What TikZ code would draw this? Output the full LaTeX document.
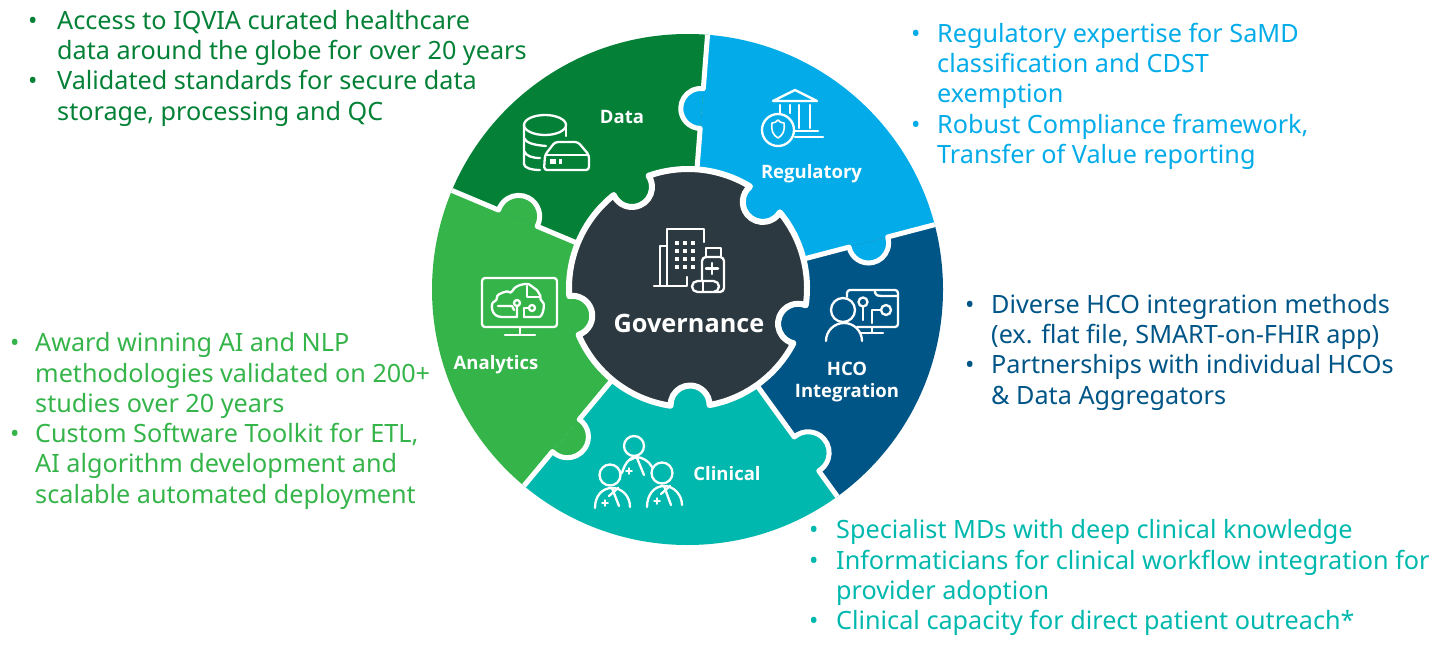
\documentclass[tikz,border=0pt]{standalone}
\usepackage{fontspec}
\setmainfont{Noto Sans}
\newfontfamily\lbf{Open Sans}
\definecolor{cdata}{HTML}{048137}
\definecolor{creg}{HTML}{03ACE8}
\definecolor{chco}{HTML}{005587}
\definecolor{cclin}{HTML}{00B8AD}
\definecolor{cana}{HTML}{35B44A}
\definecolor{cgov}{HTML}{2C3940}
\newcommand\gv[1]{\csname gv#1\endcsname}
\newcommand\gtab[4]{% id, angle, distance, radius
  \expandafter\pgfmathsetmacro\csname gva#1\endcsname{#2-acos((141.61+#3/100*#3-#4/100*#4)/(2.38*#3))}%
  \expandafter\pgfmathsetmacro\csname gvb#1\endcsname{#2+acos((141.61+#3/100*#3-#4/100*#4)/(2.38*#3))}%
  \expandafter\pgfmathsetmacro\csname gvs#1\endcsname{#2+180+acos((#4/100*#4+#3/100*#3-141.61)/(0.02*#4*#3))}%
  \expandafter\pgfmathsetmacro\csname gve#1\endcsname{#2+180-acos((#4/100*#4+#3/100*#3-141.61)/(0.02*#4*#3))}%
  \expandafter\def\csname gvr#1\endcsname{#4}}
\newcommand\seam[6]{% angle, rho, h, r, side, colour
  \pgfmathsetmacro\zph{acos(#3/#4)}%
  \pgfmathsetmacro\zst{#1-#5*90-#5*\zph}%
  \pgfmathsetmacro\zen{#1-#5*450+#5*\zph}%
  \pgfmathsetmacro\zn{#1+#5*90}%
  \path (O) ++(#1:#2) ++(\zn:#3) coordinate (T);
  \path (T) ++(\zst:#4) coordinate (I);
  \path (O) ++(#1:105) coordinate (Pa);
  \path (O) ++(#1:262) coordinate (Pb);
  \fill[#6] (I) arc[start angle=\zst,end angle=\zen,radius=#4] -- cycle;
  \draw[seamline] (Pa) -- (I) arc[start angle=\zst,end angle=\zen,radius=#4] -- (Pb);
}
\newcommand\sector[3]{\fill[#3] (O) -- ++(#1:262) arc[start angle=#1,end angle=#2,radius=262] -- cycle;}
\newcommand\bul[1]{\makebox[#1pt][l]{\fontsize{25}{25}\selectfont •}}
\newcommand\ind[1]{\hspace*{#1pt}}
\tikzset{
  seamline/.style={draw=white,line width=5pt,line join=round},
  gov/.style={fill=cgov,draw=white,line width=6pt,line join=round},
  ic/.style={draw=white,line width=2.3pt,line join=round,line cap=round},
  icf/.style={fill=white},
  lst/.style={anchor=north west,inner sep=0pt,align=left,font=\fontsize{25.2}{30.25}\selectfont},
  lab/.style={text=white,inner sep=0pt,align=center,font=\fontsize{18.5}{22}\selectfont\lbf\bfseries},
}
\begin{document}
\begin{tikzpicture}[x=1pt,y=1pt,yscale=-1]
\useasboundingbox (0,0) rectangle (1440,645);
\coordinate (O) at (687.5,289.5);
\coordinate (G) at (688,288);
\begin{scope}
\clip (O) circle[radius=255.5];
\sector{-85.5}{-14.7}{creg}
\sector{-14.7}{54.1}{chco}
\sector{54.1}{129.8}{cclin}
\sector{129.8}{202.8}{cana}
\sector{202.8}{274.5}{cdata}
\seam{-85.5}{181.5}{1}{20}{-1}{creg}
\seam{202.8}{184}{2}{21}{1}{cana}
\seam{-14.7}{187}{1}{20}{1}{creg}
\seam{54.1}{203}{2}{21}{-1}{cclin}
\seam{129.8}{190}{2}{21}{-1}{cana}
\end{scope}
\gtab{A}{-49}{114}{20}
\gtab{B}{18}{115.7}{20}
\gtab{C}{89}{117}{19.5}
\gtab{D}{166.5}{119}{20}
\gtab{E}{241}{115.5}{20}
\draw[gov] (G) ++(\gv{aA}:119)
  arc[start angle=\gv{sA},end angle=\gv{eA},radius=\gv{rA}]
  arc[start angle=\gv{bA},end angle=\gv{aB},radius=119]
  arc[start angle=\gv{sB},end angle=\gv{eB},radius=\gv{rB}]
  arc[start angle=\gv{bB},end angle=\gv{aC},radius=119]
  arc[start angle=\gv{sC},end angle=\gv{eC},radius=\gv{rC}]
  arc[start angle=\gv{bC},end angle=\gv{aD},radius=119]
  arc[start angle=\gv{sD},end angle=\gv{eD},radius=\gv{rD}]
  arc[start angle=\gv{bD},end angle=\gv{aE},radius=119]
  arc[start angle=\gv{sE},end angle=\gv{eE},radius=\gv{rE}]
  arc[start angle=\gv{bE},end angle=\gv{aA}+360,radius=119] -- cycle;
% labels
\node[lab] (ldata) at (622,116.5) {Data};
\node[lab] (lreg) at (811.5,174) {Regulatory};
\node[lab] (lhco) at (847,382) {HCO\\Integration};
\node[lab] (lclin) at (727,474) {Clinical};
\node[lab] (lana) at (496,365) {Analytics};
\node[lab,font=\fontsize{25.3}{30}\selectfont\lbf\bfseries] (lgov) at (689,323) {Governance};
% data icon
\draw[ic] (524,125) arc[start angle=180,end angle=540,x radius=21,y radius=10];
\draw[ic] (524,125) -- (524,164) .. controls (524,168) and (532,170) .. (540,170);
\draw[ic] (566,125) -- (566,136);
\draw[ic] (524,138) .. controls (526,143) and (534,145) .. (546,146);
\draw[ic] (524,151) .. controls (526,156) and (532,158) .. (540,158);
\draw[ic,rounded corners=3pt] (545,155) -- (555,142) -- (578,142) -- (589,155) -- (589,170) -- (544,170) -- cycle;
\draw[ic] (546,155) -- (588,155);
\fill[icf] (550,159) rectangle (556,164);
\fill[icf] (559,159) rectangle (562,164);
% regulatory icon
\draw[ic] (773,101) -- (795,90) -- (817,101) -- cycle;
\draw[ic] (780,105) -- (780,114);
\draw[ic] (790,105) -- (790,113);
\draw[ic] (799,105) -- (799,128);
\draw[ic] (810,105) -- (810,128);
\draw[ic] (795,131) -- (818,131);
\draw[ic] (795,137) -- (823,137);
\draw[ic] (778,130) circle[radius=16];
\draw[ic,line width=1.6pt] (772,123) .. controls (775,123) and (776,122) .. (778,120) .. controls (780,122) and (781,123) .. (784,123) .. controls (785,131) and (783,135) .. (778,138) .. controls (773,135) and (771,131) .. (772,123) -- cycle;
% HCO icon
\draw[ic] (843,310) circle[radius=12];
\draw[ic] (826,341) arc[start angle=180,end angle=360,radius=18];
\draw[ic,rounded corners=3pt] (847,297) -- (847,290) -- (898,290) -- (898,327) -- (857,327);
\draw[ic] (872,327) -- (872,333);
\draw[ic] (860,333) -- (883,333);
\draw[ic] (863,302) circle[radius=4.5];
\draw[ic] (863,307) -- (863,320);
\draw[ic] (886,310) circle[radius=5];
\draw[ic] (881,310) -- (872,310) -- (872,323);
\draw[ic,rounded corners=3pt] (875,291) -- (875,295) -- (880,296) -- (897,296);
% clinical icon
\draw[ic] (634,446) circle[radius=10];
\draw[ic] (622,473) .. controls (625,463) and (630,457) .. (636,457) .. controls (642,457) and (649,461) .. (652,467);
\draw[ic] (637,458) -- (644,475);
\draw[ic] (630,460) -- (636,457);
\draw[ic,line width=1.5pt] (626,471) -- (632,471) (629,468) -- (629,474);
\draw[ic] (610,475) circle[radius=10.5];
\draw[ic] (595,508) .. controls (595,496) and (602,488) .. (612,488) .. controls (622,488) and (630,496) .. (630,507);
\draw[ic] (612,488) -- (619,506) (618,488) -- (609,496);
\draw[ic,line width=1.5pt] (602,503) -- (608,503) (605,500) -- (605,506);
\draw[ic] (662,473) circle[radius=10.5];
\draw[ic] (647,507) .. controls (647,495) and (654,486) .. (664,486) .. controls (674,486) and (682,495) .. (682,505);
\draw[ic] (664,486) -- (671,505) (670,486) -- (661,494);
\draw[ic,line width=1.5pt] (654,501) -- (660,501) (657,498) -- (657,504);
% analytics icon
\draw[ic,rounded corners=3pt] (482,278) rectangle (557,327);
\draw[ic] (520,327) -- (520,334);
\draw[ic] (505,335) -- (535,335);
\draw[ic,rounded corners=5pt] (502,317) .. controls (490,317) and (491,303) .. (498,301) .. controls (497,294) and (507,291) .. (511,295) .. controls (515,285) and (527,283) .. (533,287) .. controls (538,291) and (540,296) .. (539,300) .. controls (545,304) and (543,317) .. (534,317) -- (524,317) (517,317) -- (502,317);
\draw[ic] (498,306) -- (512,306) -- (514,310) (517,307) -- (517,317);
\draw[ic] (517,303) circle[radius=3];
\draw[ic] (532,308) circle[radius=3];
\draw[ic] (529,308) -- (524,308) -- (524,317);
\draw[ic] (527,286) -- (527,297) -- (539,297);
% governance icon
\draw[ic] (704,242) -- (704,229) -- (667,229) -- (667,285);
\draw[ic] (667,246) -- (660,246) -- (660,285);
\draw[ic] (654,286) -- (687,286) -- (687,277);
\foreach \wx in {677,685,693} \foreach \wy in {243,251,259,267}
  \fill[icf] (\wx-2,\wy-2) rectangle (\wx+2,\wy+2);
\draw[ic] (706,257) -- (706,248) -- (721,248) -- (721,257);
\draw[ic,rounded corners=4pt] (702,280) -- (702,257) -- (724,257) -- (724,292) -- (714,292);
\draw[ic,line width=2.5pt] (712,263) -- (712,274) (706,268.5) -- (718,268.5);
\draw[ic,rounded corners=5.5pt] (692,281) rectangle (719,292);
\draw[ic] (703,281) -- (703,292);
% lists
\node[lst,text=cdata] (tdata) at (28,10) {\bul{29}Access to IQVIA curated healthcare\\\ind{29}data around the globe for over 20 years\\\bul{29}Validated standards for secure data\\\ind{29}storage, processing and QC};
\node[lst,text=creg] (treg) at (911,23) {\bul{26}Regulatory expertise for SaMD\\\ind{26}classification and CDST\\\ind{26}exemption\\\bul{26}Robust Compliance framework,\\\ind{26}Transfer of Value reporting};
\node[lst,text=chco] (thco) at (965,294) {\bul{26}Diverse HCO integration methods\\\ind{26}(ex. flat file, SMART-on-FHIR app)\\\bul{26}Partnerships with individual HCOs\\\ind{26}\& Data Aggregators};
\node[lst,text=cana] (tana) at (10,332.5) {\bul{25}Award winning AI and NLP\\\ind{25}methodologies validated on 200+\\\ind{25}studies over 20 years\\\bul{25}Custom Software Toolkit for ETL,\\\ind{25}AI algorithm development and\\\ind{25}scalable automated deployment};
\node[lst,text=cclin] (tclin) at (809,519.5) {\bul{27}Specialist MDs with deep clinical knowledge\\\bul{27}Informaticians for clinical workflow integration for\\\ind{27}provider adoption\\\bul{27}Clinical capacity for direct patient outreach*};
\end{tikzpicture}
\end{document}
